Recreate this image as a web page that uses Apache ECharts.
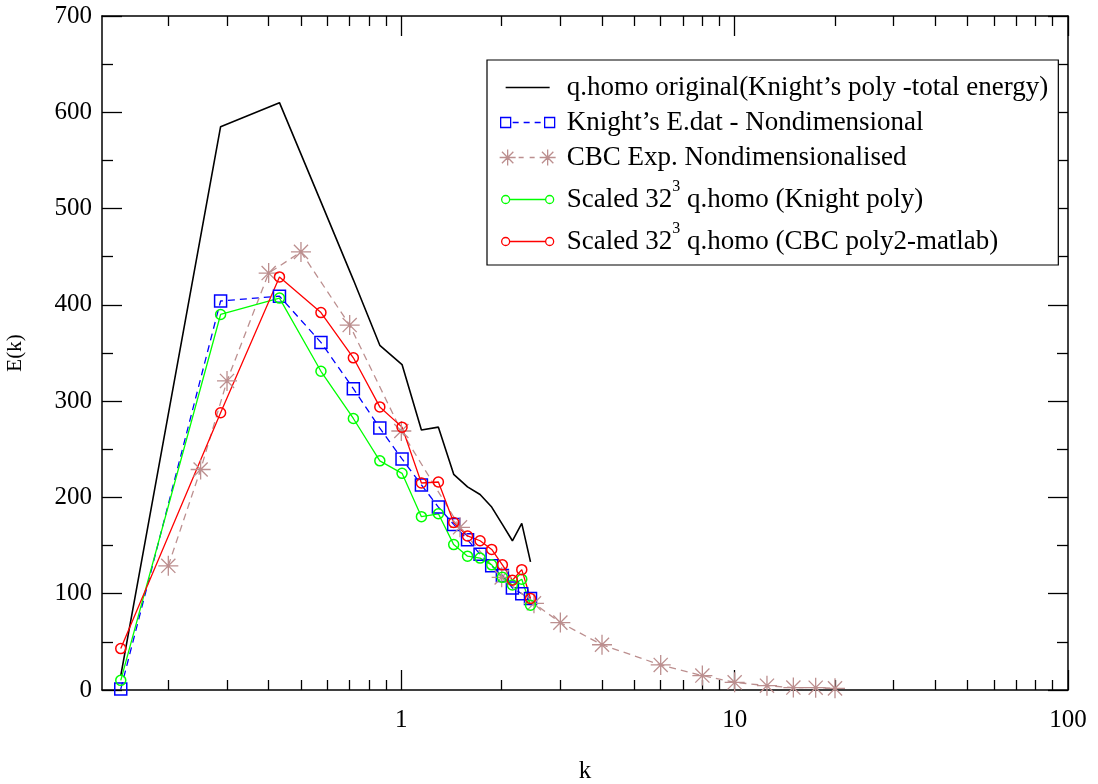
<!DOCTYPE html>
<html>
<head>
<meta charset="utf-8">
<script src="https://cdn.jsdelivr.net/npm/echarts@6/dist/echarts.min.js"></script>
<style>
  html, body { margin: 0; padding: 0; background: #fff; }
  #chart { width: 1098px; height: 784px; }
</style>
</head>
<body>
<div id="chart"></div>
<script>
// Wavenumbers of the simulation spectra (q.homo runs)
const kSim = [0.144, 0.287, 0.431, 0.574, 0.718, 0.862, 1.005, 1.149, 1.292, 1.436,
              1.580, 1.723, 1.867, 2.010, 2.154, 2.298, 2.441];
// Total-energy spectrum, original q.homo with Knight's polynomial
const eOriginal = [15, 585, 610, 507, 426, 358, 338, 270, 273, 224, 211, 203, 190, 172, 155, 173, 133];
// Knight's E.dat, nondimensional
const eKnight = [1, 404, 409, 361, 313, 272, 240, 213, 190, 172, 156, 141, 129, 119, 106, 100, 95];
// Scaled 32^3 q.homo using Knight's polynomial
const eScaledKnight = [10, 390, 407, 331, 282, 238, 225, 180, 183, 151, 139, 137, 130, 117, 109, 115, 88];
// Scaled 32^3 q.homo using the CBC poly2 (matlab) fit
const eScaledCBC = [43, 288, 429, 392, 345, 294, 273, 215, 216, 174, 160, 155, 146, 130, 114, 125, 95];

// CBC experiment, nondimensionalised
const kExp = [0.2, 0.25, 0.3, 0.4, 0.5, 0.7, 1.0, 1.5, 2.0, 2.5, 3, 4, 6, 8, 10, 12.5, 15, 17.5, 20];
const eExp = [129, 229, 321, 433, 455, 379, 269, 169, 117, 90, 70, 47, 26, 15, 8, 4.5, 2.5, 2.4, 1.7];

// Axis ticks
const kMajorTicks = [1, 10, 100];
const kMinorTicks = [0.2, 0.3, 0.4, 0.5, 0.6, 0.7, 0.8, 0.9,
                     2, 3, 4, 5, 6, 7, 8, 9,
                     20, 30, 40, 50, 60, 70, 80, 90];

const names = [
  'q.homo original(Knight\u2019s poly -total energy)',
  'Knight\u2019s E.dat - Nondimensional',
  'CBC Exp. Nondimensionalised',
  'Scaled 32\u00b3 q.homo (Knight poly)',
  'Scaled 32\u00b3 q.homo (CBC poly2-matlab)'
];
const colors = ['#000000', '#0000ff', '#bc8f8f', '#00ff00', '#ff0000'];

function pairs(xs, ys) { return xs.map((x, i) => [x, ys[i]]); }

const FONT = 'Liberation Serif';
const K_MIN = 0.1265, K_MAX = 100;

// Plot symbols
const asterisk = 'path://M10,0 L10,20 M0,10 L20,10 M2.93,2.93 L17.07,17.07 M2.93,17.07 L17.07,2.93';

// Legend samples: symbol - line - symbol; the leading moves fix the icon box
const icoBox = 'M0,0 M62,16 ';
const legendIcons = [
  'path://' + icoBox + 'M6,8 L50,8',
  'path://' + icoBox + 'M1,3 L11,3 L11,13 L1,13 Z M45,3 L55,3 L55,13 L45,13 Z M13,8 L19,8 M24,8 L30,8 M35,8 L41,8',
  'path://' + icoBox + 'M8,0 L8,16 M0,8 L16,8 M2.3,2.3 L13.7,13.7 M2.3,13.7 L13.7,2.3 ' +
    'M48,0 L48,16 M40,8 L56,8 M42.3,2.3 L53.7,13.7 M42.3,13.7 L53.7,2.3 M19,8 L24,8 M30,8 L35,8',
  'path://' + icoBox + 'M2,8 A4,4 0 1,0 10,8 A4,4 0 1,0 2,8 Z M46,8 A4,4 0 1,0 54,8 A4,4 0 1,0 46,8 Z M10,8 L46,8',
  'path://' + icoBox + 'M2,8 A4,4 0 1,0 10,8 A4,4 0 1,0 2,8 Z M46,8 A4,4 0 1,0 54,8 A4,4 0 1,0 46,8 Z M10,8 L46,8'
];

function xAxisDef(position, ticks, len, showLine, showLabel, extra) {
  return Object.assign({
    type: 'log', min: K_MIN, max: K_MAX, position: position,
    axisLine: { show: showLine, lineStyle: { color: '#000', width: 1.5 } },
    axisTick: { show: true, inside: true, length: len, customValues: ticks,
                lineStyle: { color: '#000', width: 1.3 } },
    axisLabel: { show: showLabel, customValues: kMajorTicks, margin: 18,
                 fontFamily: FONT, fontSize: 25, color: '#000' },
    minorTick: { show: false },
    splitLine: { show: false }
  }, extra || {});
}

function yAxisDef(position, showLabel, extra) {
  return Object.assign({
    type: 'value', min: 0, max: 700, interval: 100, position: position,
    axisLine: { show: true, lineStyle: { color: '#000', width: 1.5 } },
    axisTick: { show: true, inside: true, length: 20, lineStyle: { color: '#000', width: 1.3 } },
    minorTick: { show: true, splitNumber: 2, length: 11, lineStyle: { color: '#000', width: 1.3 } },
    axisLabel: { show: showLabel, margin: 10, fontFamily: FONT, fontSize: 25, color: '#000' },
    splitLine: { show: false }
  }, extra || {});
}

const option = {
  animation: false,
  backgroundColor: '#fff',
  grid: { left: 102, right: 30, top: 16, bottom: 94, containLabel: false, outerBoundsMode: 'none' },
  xAxis: [
    xAxisDef('bottom', kMajorTicks, 20, true, true,
      { name: 'k', nameLocation: 'middle', nameGap: 69,
        nameTextStyle: { fontFamily: FONT, fontSize: 25, color: '#000' } }),
    xAxisDef('bottom', kMinorTicks, 10, false, false),
    xAxisDef('top', kMajorTicks, 20, true, false),
    xAxisDef('top', kMinorTicks, 10, false, false)
  ],
  yAxis: [
    yAxisDef('left', true,
      { name: 'E(k)', nameLocation: 'middle', nameGap: 76, nameRotate: 90,
        nameTextStyle: { fontFamily: FONT, fontSize: 21, color: '#000' } }),
    yAxisDef('right', false)
  ],
  legend: {
    orient: 'vertical', left: 487, top: 60, align: 'left',
    backgroundColor: '#fff', borderColor: '#000', borderWidth: 1.2, borderRadius: 0,
    padding: [14, 10, 10, 12], itemGap: 8, itemWidth: 62, itemHeight: 16,
    selectedMode: false,
    textStyle: {
      fontFamily: FONT, fontSize: 27, color: '#000',
      rich: { sup: { fontFamily: FONT, fontSize: 16, color: '#000', verticalAlign: 'top', padding: [2, 0, 27, 0] } }
    },
    formatter: name => name.replace('32\u00b3', '32{sup|3}'),
    data: names.map((n, i) => ({
      name: n, icon: legendIcons[i],
      itemStyle: { color: 'rgba(0,0,0,0)', borderColor: colors[i], borderWidth: 1.3 }
    }))
  },
  series: [
    {
      name: names[0], type: 'line', data: pairs(kSim, eOriginal),
      showSymbol: false, symbol: 'none',
      lineStyle: { color: colors[0], width: 1.6 }, itemStyle: { color: colors[0] }
    },
    {
      name: names[1], type: 'line', data: pairs(kSim, eKnight),
      symbol: 'rect', symbolSize: 12,
      lineStyle: { color: colors[1], width: 1.3, type: [7, 5] },
      itemStyle: { color: 'rgba(0,0,0,0)', borderColor: colors[1], borderWidth: 1.5 }
    },
    {
      name: names[2], type: 'line', data: pairs(kExp, eExp),
      symbol: asterisk, symbolSize: 20,
      lineStyle: { color: colors[2], width: 1.3, type: [7, 5] },
      itemStyle: { color: 'rgba(0,0,0,0)', borderColor: colors[2], borderWidth: 1.3 }
    },
    {
      name: names[3], type: 'line', data: pairs(kSim, eScaledKnight),
      symbol: 'circle', symbolSize: 10,
      lineStyle: { color: colors[3], width: 1.3 },
      itemStyle: { color: 'rgba(0,0,0,0)', borderColor: colors[3], borderWidth: 1.5 }
    },
    {
      name: names[4], type: 'line', data: pairs(kSim, eScaledCBC),
      symbol: 'circle', symbolSize: 10,
      lineStyle: { color: colors[4], width: 1.3 },
      itemStyle: { color: 'rgba(0,0,0,0)', borderColor: colors[4], borderWidth: 1.5 }
    }
  ]
};

const chart = echarts.init(document.getElementById('chart'), null, { renderer: 'canvas' });
chart.setOption(option);
</script>
</body>
</html>
